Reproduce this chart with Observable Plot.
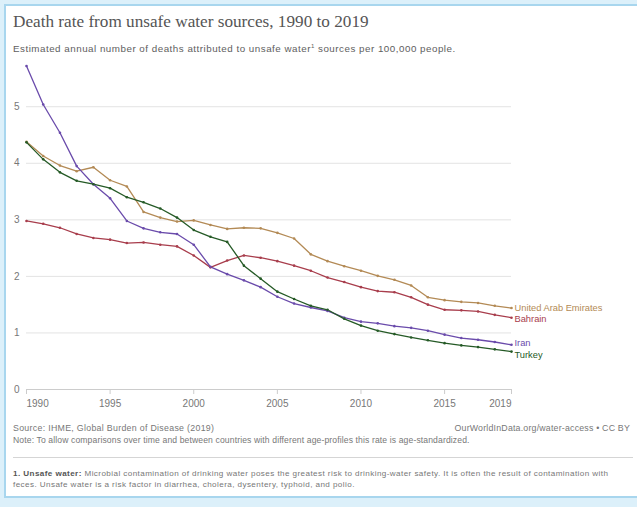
<!DOCTYPE html>
<html>
<head>
<meta charset="utf-8">
<script src="https://cdn.jsdelivr.net/npm/d3@7"></script>
<script src="https://cdn.jsdelivr.net/npm/@observablehq/plot@0.6"></script>
<style>
  html, body { margin: 0; padding: 0; }
  body { width: 637px; height: 507px; background: #dcf0fa; position: relative; overflow: hidden; font-family: "Liberation Sans", Arial, sans-serif; }
  #card { position: absolute; left: 4px; top: 4px; width: 640px; height: 490px; background: #fff; border-left: 2px solid #a8d6ee; border-top: 2px solid #a8d6ee; border-bottom: 2px solid #a8d6ee; }
  .abs { position: absolute; white-space: nowrap; }
  #title { left: 13px; top: 10px; font-family: "Liberation Serif", "DejaVu Serif", serif; font-size: 17.2px; line-height: 24px; color: #555; }
  #subtitle { left: 13px; top: 40px; font-size: 9.8px; letter-spacing: 0.5px; line-height: 12px; color: #5e5e5e; }
  #chart { left: 0; top: 55px; }
  #source { left: 13px; top: 422px; font-size: 8.8px; letter-spacing: 0.3px; line-height: 12px; color: #777; }
  #credit { right: 7px; top: 422px; font-size: 8.8px; letter-spacing: 0.2px; line-height: 12px; color: #777; }
  #note { left: 13px; top: 434px; font-size: 8.6px; letter-spacing: 0.12px; line-height: 12px; color: #777; }
  #hr { left: 13px; top: 457px; width: 620px; height: 1px; background: #d5d5d5; }
  .foot { left: 13px; font-size: 8.1px; letter-spacing: 0.42px; line-height: 11px; color: #777; }
  #foot1 { top: 468px; }
  #foot2 { top: 479px; }
  .foot b { color: #555; }
</style>
</head>
<body>
<div id="card"></div>
<div id="title" class="abs">Death rate from unsafe water sources, 1990 to 2019</div>
<div id="subtitle" class="abs">Estimated annual number of deaths attributed to unsafe water<sup style="font-size:6px">1</sup> sources per 100,000 people.</div>
<div id="chart" class="abs"></div>
<div id="source" class="abs">Source: IHME, Global Burden of Disease (2019)</div>
<div id="credit" class="abs">OurWorldInData.org/water-access • CC BY</div>
<div id="note" class="abs">Note: To allow comparisons over time and between countries with different age-profiles this rate is age-standardized.</div>
<div id="hr" class="abs"></div>
<div id="foot1" class="abs foot"><b>1. Unsafe water:</b><span> Microbial contamination of drinking water poses the greatest risk to drinking-water safety. It is often the result of contamination with</span></div>
<div id="foot2" class="abs foot">feces. Unsafe water is a risk factor in diarrhea, cholera, dysentery, typhoid, and polio.</div>
<script>
const years = d3.range(1990, 2020);
const countries = ["United Arab Emirates", "Bahrain", "Iran", "Turkey"];
const colors = ["#b38a55", "#a83d4c", "#6a4bab", "#255a26"];
const uae = [4.38, 4.13, 3.96, 3.86, 3.93, 3.70, 3.59, 3.14, 3.04, 2.97, 2.99, 2.91, 2.84, 2.86, 2.85, 2.77, 2.67, 2.39, 2.27, 2.18, 2.10, 2.01, 1.94, 1.84, 1.63, 1.58, 1.55, 1.53, 1.48, 1.44];
const bahrain = [2.98, 2.93, 2.86, 2.75, 2.68, 2.65, 2.59, 2.60, 2.56, 2.53, 2.37, 2.16, 2.28, 2.37, 2.33, 2.27, 2.19, 2.10, 1.98, 1.90, 1.81, 1.74, 1.72, 1.63, 1.50, 1.41, 1.40, 1.38, 1.32, 1.27];
const iran = [5.72, 5.04, 4.54, 3.95, 3.63, 3.38, 2.98, 2.85, 2.78, 2.75, 2.56, 2.17, 2.04, 1.93, 1.81, 1.64, 1.52, 1.45, 1.39, 1.27, 1.20, 1.17, 1.12, 1.09, 1.04, 0.97, 0.91, 0.88, 0.84, 0.79];
const turkey = [4.37, 4.07, 3.84, 3.69, 3.63, 3.56, 3.40, 3.31, 3.20, 3.04, 2.82, 2.70, 2.61, 2.19, 1.96, 1.73, 1.60, 1.48, 1.41, 1.25, 1.13, 1.04, 0.98, 0.92, 0.87, 0.82, 0.78, 0.75, 0.71, 0.67];
const yTicks = [0, 1, 2, 3, 4, 5];
const xTicks = [1990, 1995, 2000, 2005, 2010, 2015, 2019];

const seriesValues = [uae, bahrain, iran, turkey];
const data = countries.flatMap((c, k) => years.map((yr, i) => ({country: c, year: yr, value: seriesValues[k][i]})));
const last = countries.map((c, k) => ({country: c, year: years[years.length - 1], value: seriesValues[k][years.length - 1]}));
const labelDy = [0, 1, -2, 3];

const chart = Plot.plot({
  width: 637,
  height: 360,
  marginLeft: 26,
  marginRight: 126,
  marginTop: 6,
  marginBottom: 26,
  x: {domain: [1990, 2019]},
  y: {domain: [0, 5.8]},
  color: {domain: countries, range: colors},
  style: {fontFamily: "'Liberation Sans', Arial, sans-serif", fontSize: "10px", color: "#666", background: "transparent", overflow: "visible"},
  marks: [
    Plot.gridY(yTicks.filter(d => d > 0), {stroke: "#e3e3e3", strokeOpacity: 1}),
    Plot.axisY(yTicks, {tickSize: 0, tickPadding: 7, tickFormat: d => String(d), label: null, fill: "#777"}),
    Plot.ruleY([0], {stroke: "#ccc"}),
    Plot.axisX(xTicks.slice(1, -1), {tickSize: 5, tickPadding: 5, tickFormat: d => String(d), label: null, stroke: "#ccc", fill: "#777"}),
    Plot.axisX([xTicks[0]], {tickSize: 5, tickPadding: 5, tickFormat: d => String(d), label: null, stroke: "#ccc", fill: "#777", textAnchor: "start"}),
    Plot.axisX([xTicks[xTicks.length - 1]], {tickSize: 5, tickPadding: 5, tickFormat: d => String(d), label: null, stroke: "#ccc", fill: "#777", textAnchor: "end"}),
    Plot.line(data, {x: "year", y: "value", z: "country", stroke: "country", strokeWidth: 1.3}),
    Plot.dot(data, {x: "year", y: "value", fill: "country", r: 1.3}),
    ...countries.map((c, k) => Plot.text([last[k]], {x: "year", y: "value", text: "country", textAnchor: "start", dx: 3, dy: labelDy[k], fill: colors[k], fontSize: 9.3}))
  ]
});
document.getElementById("chart").appendChild(chart);
</script>
</body>
</html>
